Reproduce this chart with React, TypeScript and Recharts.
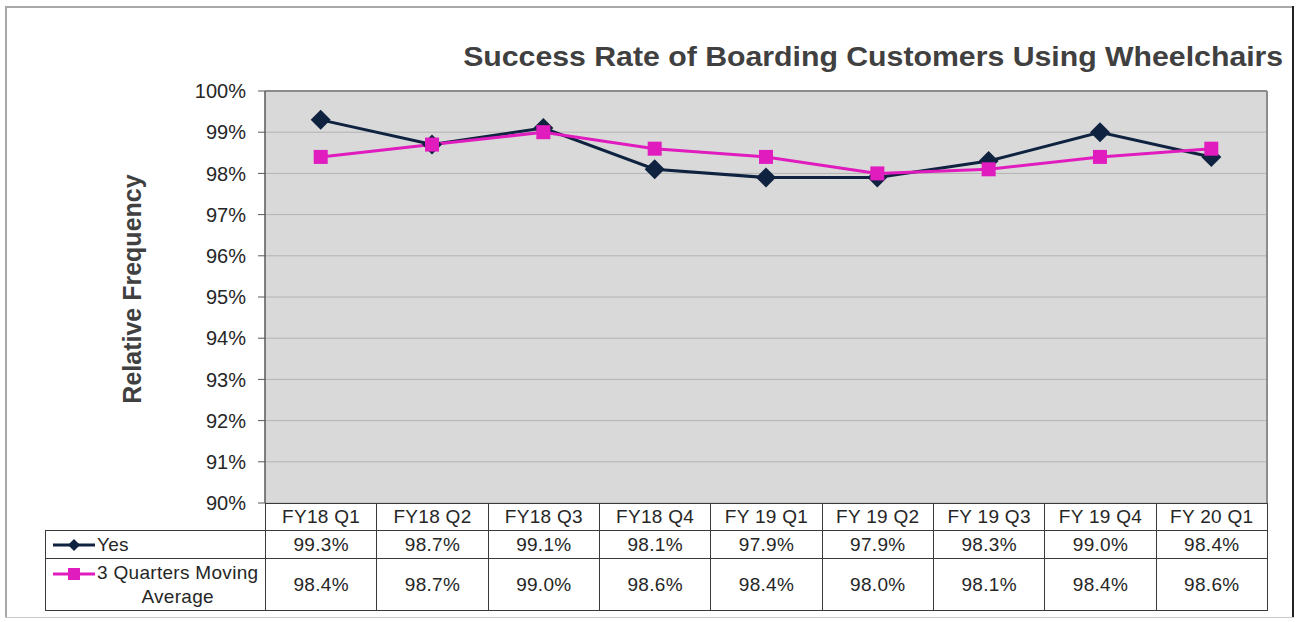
import { LineChart, Line, XAxis, YAxis, CartesianGrid, ReferenceLine } from "recharts";

const quarters = ["FY18 Q1", "FY18 Q2", "FY18 Q3", "FY18 Q4", "FY 19 Q1", "FY 19 Q2", "FY 19 Q3", "FY 19 Q4", "FY 20 Q1"];
const yesValues = [99.3, 98.7, 99.1, 98.1, 97.9, 97.9, 98.3, 99.0, 98.4];
const movingAvg = [98.4, 98.7, 99.0, 98.6, 98.4, 98.0, 98.1, 98.4, 98.6];
const yTicks = [90, 91, 92, 93, 94, 95, 96, 97, 98, 99, 100];

const YES_COLOR = "#0f2340";
const MA_COLOR = "#e01cbf";
const FONT = "'Liberation Sans', Arial, sans-serif";

const data = quarters.map((q, i) => ({ q, yes: yesValues[i], ma: movingAvg[i] }));

const Diamond = (props: any) => {
  const { cx, cy, index } = props;
  if (cx == null || cy == null) return null;
  const r = 10;
  return (
    <polygon
      key={`d-${index}`}
      points={`${cx},${cy - r} ${cx + r},${cy} ${cx},${cy + r} ${cx - r},${cy}`}
      fill={YES_COLOR}
    />
  );
};

const Square = (props: any) => {
  const { cx, cy, index } = props;
  if (cx == null || cy == null) return null;
  const s = 7;
  return <rect key={`s-${index}`} x={cx - s} y={cy - s} width={s * 2} height={s * 2} fill={MA_COLOR} />;
};

const LegendKey = ({ color, shape }: { color: string; shape: "diamond" | "square" }) => (
  <svg width={46} height={14} style={{ flex: "none", display: "block" }}>
    <line x1={2} y1={7} x2={44} y2={7} stroke={color} strokeWidth={3} />
    {shape === "diamond" ? (
      <polygon points="23,1 29,7 23,13 17,7" fill={color} />
    ) : (
      <rect x={17} y={1} width={12} height={12} fill={color} />
    )}
  </svg>
);

const cellBorder = "1px solid #3a3a3a";
const cellStyle = {
  border: cellBorder,
  textAlign: "center" as const,
  fontSize: 19,
  color: "#262626",
  padding: 0,
  letterSpacing: 0.3,
};

export default function App() {
  return (
    <div
      style={{
        position: "absolute",
        left: 0,
        top: 0,
        width: 1297,
        height: 622,
        background: "#fff",
        overflow: "hidden",
        fontFamily: FONT,
      }}
    >
      {/* outer frame */}
      <div style={{ position: "absolute", left: 5, top: 6, width: 1289, height: 2, background: "#a8a8a8" }} />
      <div style={{ position: "absolute", left: 5, top: 6, width: 2, height: 612, background: "#a8a8a8" }} />
      <div style={{ position: "absolute", left: 1292, top: 6, width: 2, height: 612, background: "#222" }} />
      <div style={{ position: "absolute", left: 5, top: 617, width: 1289, height: 1, background: "#c8c8c8" }} />

      <div
        style={{
          position: "absolute",
          right: 14,
          top: 42,
          fontSize: 27,
          fontWeight: "bold",
          color: "#404040",
          whiteSpace: "nowrap",
          transform: "scaleX(1.12)",
          transformOrigin: "right center",
        }}
      >
        Success Rate of Boarding Customers Using Wheelchairs
      </div>

      <div
        style={{
          position: "absolute",
          left: 132,
          top: 289,
          transform: "translate(-50%, -50%) rotate(-90deg)",
          fontSize: 25,
          fontWeight: "bold",
          color: "#404040",
          whiteSpace: "nowrap",
        }}
      >
        Relative Frequency
      </div>

      <div style={{ position: "absolute", left: 0, top: 0 }}>
        <LineChart width={1297} height={622} data={data} margin={{ top: 91, right: 30, bottom: 119, left: 205 }}>
          <CartesianGrid vertical={false} stroke="#b3b3b3" fill="#d9d9d9" />
          <XAxis dataKey="q" hide padding={{ left: 55.7, right: 55.7 }} />
          <YAxis
            width={60}
            domain={[90, 100]}
            ticks={yTicks}
            interval={0}
            tickFormatter={(v: number) => `${v}%`}
            tick={{ fontSize: 20, fill: "#262626", fontFamily: FONT }}
            axisLine={{ stroke: "#595959", strokeWidth: 1.5 }}
            tickLine={{ stroke: "#595959" }}
            tickSize={7}
            tickMargin={12}
          />
          <ReferenceLine y={100} stroke="#8c8c8c" strokeWidth={2} />
          <Line
            dataKey="yes"
            stroke={YES_COLOR}
            strokeWidth={3}
            dot={Diamond}
            activeDot={false}
            isAnimationActive={false}
          />
          <Line
            dataKey="ma"
            stroke={MA_COLOR}
            strokeWidth={3}
            dot={Square}
            activeDot={false}
            isAnimationActive={false}
          />
        </LineChart>
      </div>

      {/* right edge of plot area */}
      <div style={{ position: "absolute", left: 1266, top: 91, width: 2, height: 412, background: "#8c8c8c" }} />

      <table
        style={{
          position: "absolute",
          left: 45,
          top: 503,
          width: 1222,
          borderCollapse: "collapse",
          tableLayout: "fixed",
          fontFamily: FONT,
        }}
      >
        <colgroup>
          <col style={{ width: 220 }} />
          {quarters.map((q) => (
            <col key={q} style={{ width: 111.33 }} />
          ))}
        </colgroup>
        <tbody>
          <tr style={{ height: 27 }}>
            <td style={{ padding: 0, borderRight: cellBorder }} />
            {quarters.map((q) => (
              <td key={q} style={cellStyle}>
                {q}
              </td>
            ))}
          </tr>
          <tr style={{ height: 28 }}>
            <td style={{ ...cellStyle, textAlign: "left" }}>
              <div style={{ display: "flex", alignItems: "center", paddingLeft: 5 }}>
                <LegendKey color={YES_COLOR} shape="diamond" />
                <span>Yes</span>
              </div>
            </td>
            {yesValues.map((v, i) => (
              <td key={i} style={cellStyle}>
                {v.toFixed(1)}%
              </td>
            ))}
          </tr>
          <tr style={{ height: 52 }}>
            <td style={{ ...cellStyle, textAlign: "left" }}>
              <div style={{ display: "flex", alignItems: "flex-start", paddingLeft: 5 }}>
                <div style={{ paddingTop: 6 }}>
                  <LegendKey color={MA_COLOR} shape="square" />
                </div>
                <div style={{ textAlign: "center", lineHeight: "24px" }}>
                  3 Quarters Moving
                  <br />
                  Average
                </div>
              </div>
            </td>
            {movingAvg.map((v, i) => (
              <td key={i} style={cellStyle}>
                {v.toFixed(1)}%
              </td>
            ))}
          </tr>
        </tbody>
      </table>
    </div>
  );
}
